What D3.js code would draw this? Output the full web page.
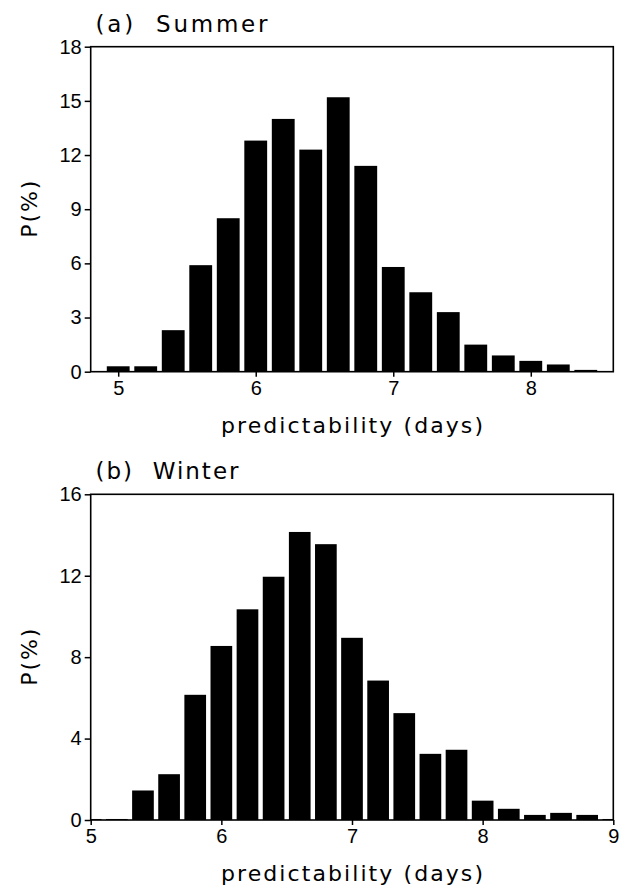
<!DOCTYPE html>
<html>
<head>
<meta charset="utf-8">
<script src="https://cdn.jsdelivr.net/npm/d3@7"></script>
<style>
  body { margin: 0; background: #fff; }
  svg text { font-family: "DejaVu Sans", "Liberation Sans", sans-serif; fill: #000; white-space: pre; }
</style>
</head>
<body>
<svg id="chart" width="628" height="889"></svg>
<script>
// data (percent of cases per 0.2-day bin)
const summerBins = [5.0, 5.2, 5.4, 5.6, 5.8, 6.0, 6.2, 6.4, 6.6, 6.8, 7.0, 7.2, 7.4, 7.6, 7.8, 8.0, 8.2, 8.4];
const summerValues = [0.3, 0.3, 2.3, 5.9, 8.5, 12.8, 14.0, 12.3, 15.2, 11.4, 5.8, 4.4, 3.3, 1.5, 0.9, 0.6, 0.4, 0.1];
const winterBins = [5.0, 5.2, 5.4, 5.6, 5.8, 6.0, 6.2, 6.4, 6.6, 6.8, 7.0, 7.2, 7.4, 7.6, 7.8, 8.0, 8.2, 8.4, 8.6, 8.8, 9.0];
const winterValues = [0.05, 0.05, 1.45, 2.25, 6.15, 8.55, 10.35, 11.95, 14.15, 13.55, 8.95, 6.85, 5.25, 3.25, 3.45, 0.95, 0.55, 0.25, 0.35, 0.25, 0.05];

const summerXTicks = [5, 6, 7, 8];
const summerYTicks = [0, 3, 6, 9, 12, 15, 18];
const winterXTicks = [5, 6, 7, 8, 9];
const winterYTicks = [0, 4, 8, 12, 16];

const svg = d3.select("#chart");
const left = 90.7, right = 613.3;
const binWidth = 0.2, barFrac = 0.83;

function drawPanel(opt) {
    let g = svg.append("g");
    let x = d3.scaleLinear().domain(opt.xDomain).range([left, right]);
    let y = d3.scaleLinear().domain(opt.yDomain).range([opt.bottom, opt.top]);

    // clip so edge bins get cut at the frame
    svg.append("clipPath").attr("id", opt.id + "-clip")
        .append("rect")
        .attr("x", left).attr("y", opt.top)
        .attr("width", right - left).attr("height", opt.bottom - opt.top);

    let rows = opt.bins.map((b, i) => ({bin: b, value: opt.values[i]}));
    g.append("g")
        .attr("clip-path", "url(#" + opt.id + "-clip)")
        .selectAll("rect")
        .data(rows)
        .enter()
        .append("rect")
        .attr("x", d => x(d.bin - binWidth * barFrac / 2))
        .attr("width", d => x(d.bin + binWidth * barFrac / 2) - x(d.bin - binWidth * barFrac / 2))
        .attr("y", d => y(d.value))
        .attr("height", d => y(0) - y(d.value))
        .attr("fill", "#000");

    let xAxis = d3.axisBottom(x).tickValues(opt.xTicks).tickSize(5).tickPadding(4).tickFormat(d3.format("d"));
    let yAxis = d3.axisLeft(y).tickValues(opt.yTicks).tickSize(6).tickPadding(3).tickFormat(d3.format("d"));

    let gx = g.append("g").attr("transform", "translate(0," + opt.bottom + ")").call(xAxis);
    let gy = g.append("g").attr("transform", "translate(" + left + ",0)").call(yAxis);
    [gx, gy].forEach(a => {
        a.select(".domain").remove();
        a.selectAll(".tick line").attr("stroke", "#000").attr("stroke-width", 1.5);
        a.selectAll(".tick text").attr("font-size", 20).attr("fill", "#000")
            .style("font-family", "'Liberation Sans', Arial, sans-serif");
    });

    // frame
    g.append("rect")
        .attr("x", left).attr("y", opt.top)
        .attr("width", right - left).attr("height", opt.bottom - opt.top)
        .attr("fill", "none").attr("stroke", "#000").attr("stroke-width", 1.6);

    // panel title
    g.append("text")
        .attr("x", 95.5).attr("y", opt.top - 15)
        .attr("font-size", 23)
        .attr("textLength", opt.titleLen).attr("lengthAdjust", "spacing")
        .text(opt.title);

    // axis titles
    g.append("text")
        .attr("x", (left + right) / 2).attr("y", opt.bottom + 61)
        .attr("text-anchor", "middle")
        .attr("font-size", 22)
        .attr("textLength", 262).attr("lengthAdjust", "spacing")
        .text("predictability (days)");

    g.append("text")
        .attr("transform", "translate(37," + ((opt.top + opt.bottom) / 2) + ") rotate(-90)")
        .attr("text-anchor", "middle")
        .attr("font-size", 22)
        .attr("textLength", 57).attr("lengthAdjust", "spacing")
        .text("P(%)");
}

drawPanel({
    id: "summer", top: 46.7, bottom: 371.7,
    xDomain: [4.8, 8.6], yDomain: [0, 18],
    bins: summerBins, values: summerValues,
    xTicks: summerXTicks, yTicks: summerYTicks,
    title: "(a)  Summer", titleLen: 172
});

drawPanel({
    id: "winter", top: 494.3, bottom: 820,
    xDomain: [5, 9], yDomain: [0, 16],
    bins: winterBins, values: winterValues,
    xTicks: winterXTicks, yTicks: winterYTicks,
    title: "(b)  Winter", titleLen: 143
});
</script>
</body>
</html>
